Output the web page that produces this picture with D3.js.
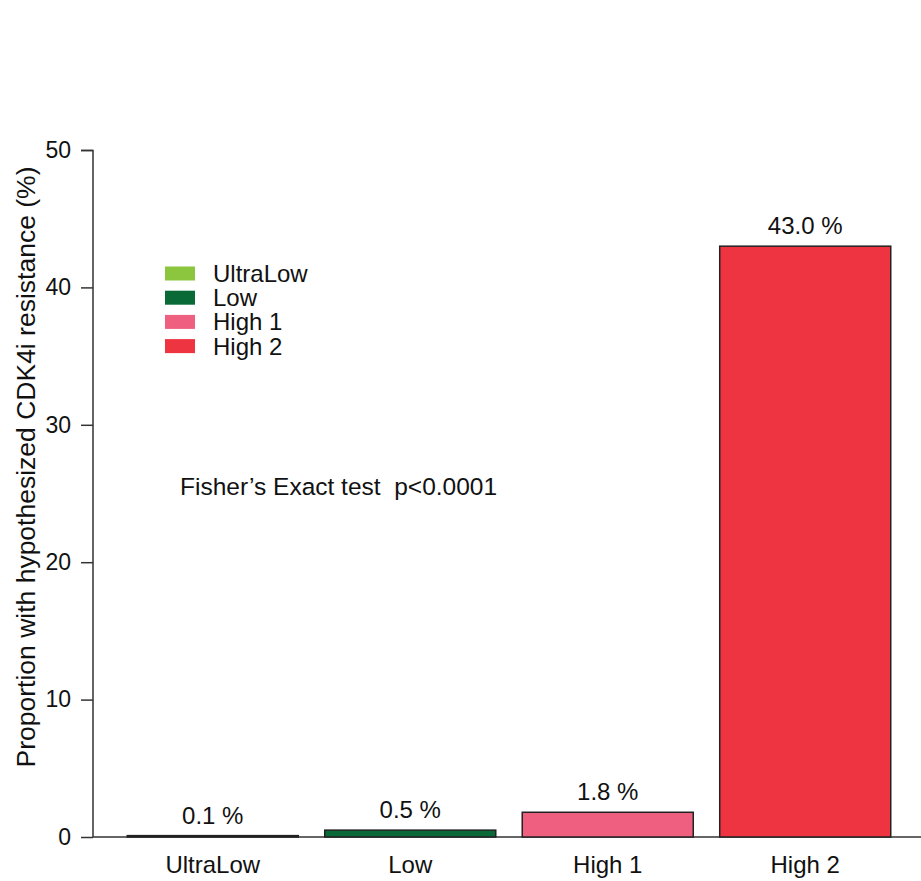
<!DOCTYPE html>
<html><head><meta charset="utf-8">
<script src="https://cdn.jsdelivr.net/npm/d3@7"></script>
<style>body{margin:0;background:#fff}svg{display:block}text{font-family:"Liberation Sans",Arial,sans-serif;fill:#111}</style>
</head><body>
<script>
const categories = ["UltraLow","Low","High 1","High 2"];
const values = [0.1, 0.5, 1.8, 43.0];
const valueLabels = ["0.1 %","0.5 %","1.8 %","43.0 %"];
const colors = ["#8cc63f","#0a6a37","#ef5f80","#ee3341"];
const yTicks = [0,10,20,30,40,50];

const W=921,H=881;
const svg=d3.select("body").append("svg").attr("width",W).attr("height",H);
const x=d3.scaleBand().domain(categories).range([100,918]).paddingInner(0.134).paddingOuter(0.138);
const y=d3.scaleLinear().domain([0,50]).range([837,150]);

svg.append("line").attr("x1",93).attr("x2",921).attr("y1",y(0)).attr("y2",y(0)).attr("stroke","#333").attr("stroke-width",1.5);

const yAxis=svg.append("g").attr("transform","translate(93,0)").call(d3.axisLeft(y).tickValues(yTicks).tickSize(12).tickPadding(10));
yAxis.select(".domain").attr("stroke","#333").attr("stroke-width",1.5).attr("d","M-12,150.5H0V837");
yAxis.selectAll(".tick line").attr("stroke","#333").attr("stroke-width",1.5);
yAxis.selectAll(".tick text").attr("font-size",23).attr("font-family","Liberation Sans, Arial, sans-serif").attr("fill","#111");

svg.append("g").selectAll("rect").data(categories).join("rect")
 .attr("x",d=>x(d)).attr("width",x.bandwidth())
 .attr("y",(d,i)=>y(values[i])).attr("height",(d,i)=>y(0)-y(values[i]))
 .attr("fill",(d,i)=>colors[i]).attr("stroke","#222").attr("stroke-width",1.5);

svg.append("g").selectAll("text").data(categories).join("text")
 .attr("x",d=>x(d)+x.bandwidth()/2).attr("y",(d,i)=>y(values[i])-12)
 .attr("text-anchor","middle").attr("font-size",24).text((d,i)=>valueLabels[i]);

svg.append("g").selectAll("text").data(categories).join("text")
 .attr("x",d=>x(d)+x.bandwidth()/2).attr("y",873)
 .attr("text-anchor","middle").attr("font-size",24).text(d=>d);

svg.append("text").attr("transform","translate(35,467) rotate(-90)").attr("text-anchor","middle")
 .attr("font-size",26.5).text("Proportion with hypothesized CDK4i resistance (%)");

const leg=svg.append("g");
categories.forEach((c,i)=>{
  const cy=273.5+i*24.2;
  leg.append("rect").attr("x",165).attr("y",cy-7).attr("width",30).attr("height",14).attr("fill",colors[i]);
  leg.append("text").attr("x",213).attr("y",cy+8.5).attr("font-size",24).text(c);
});

svg.append("text").attr("x",180).attr("y",495).attr("font-size",24.5).attr("xml:space","preserve").text("Fisher\u2019s Exact test  p<0.0001");
</script>
</body></html>
